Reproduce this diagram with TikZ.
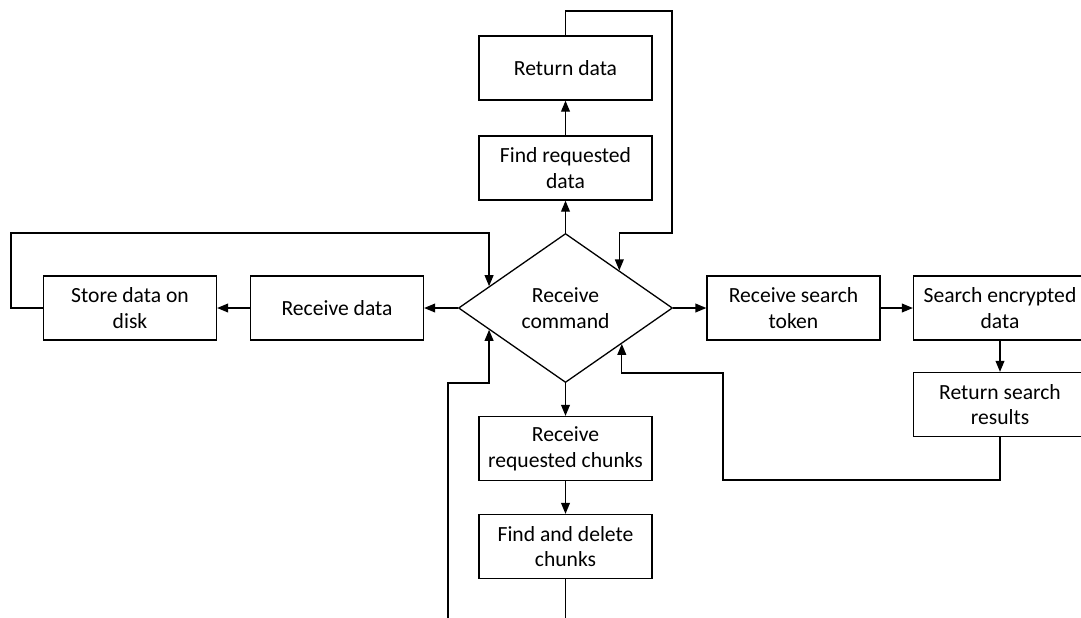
\documentclass[tikz,border=0pt]{standalone}
\usepackage{fontspec}
\setmainfont{Carlito}
\usetikzlibrary{shapes.geometric,arrows.meta,calc}
\begin{document}
\begin{tikzpicture}[x=0.5pt,y=-0.5pt,
  box/.style={draw=black,line width=0.65pt,minimum width=86.5pt,minimum height=32pt,inner sep=0pt,align=center,font=\fontsize{10.8}{12.8}\selectfont},
  dia/.style={draw=black,line width=0.65pt,shape=diamond,minimum width=107pt,minimum height=74.5pt,inner sep=0pt,align=center,font=\fontsize{10.8}{12.8}\selectfont},
  conn/.style={line width=0.65pt,-{Triangle[length=5.5pt,width=4.4pt]}},
  wire/.style={line width=0.65pt}]
\useasboundingbox (0,0) rectangle (1081,617);
\clip (0,0) rectangle (1081,617);
\node[dia] (cmd) at (565.5,308) {Receive\\command};
\node[box] (ret) at (565.5,68) {Return data};
\node[box] (find) at (565.5,168) {Find requested\\data};
\node[box] (recv) at (337,308) {Receive data};
\node[box] (store) at (130,308) {Store data on\\disk};
\node[box] (token) at (793.5,308) {Receive search\\token};
\node[box] (search) at (1000,308) {Search encrypted\\data};
\node[box] (results) at (1000,404.5) {Return search\\results};
\node[box] (chunks) at (565.5,448.5) {Receive\\requested chunks};
\node[box] (delete) at (565.5,546.5) {Find and delete\\chunks};
% edge points on the diamond
\coordinate (inNW) at ($(cmd.west)!0.29!(cmd.north)$);
\coordinate (inNE) at ($(cmd.north)!0.50!(cmd.east)$);
\coordinate (inSE) at ($(cmd.east)!0.477!(cmd.south)$);
\coordinate (inSW) at ($(cmd.west)!0.29!(cmd.south)$);
% straight connectors
\draw[conn] (cmd.north) -- (find.south);
\draw[conn] (find.north) -- (ret.south);
\draw[conn] (cmd.west) -- (recv.east);
\draw[conn] (recv.west) -- (store.east);
\draw[conn] (cmd.east) -- (token.west);
\draw[conn] (token.east) -- (search.west);
\draw[conn] (search.south) -- (results.north);
\draw[conn] (cmd.south) -- (chunks.north);
\draw[conn] (chunks.south) -- (delete.north);
% loops back to the command diamond
\draw[conn] (ret.north) -- (565.5,11) -- (672,11) -- (672,233) -- (inNE |- 0,233) -- (inNE);
\draw[conn] (store.west) -- (11,308) -- (11,233) -- (inNW |- 0,233) -- (inNW);
\draw[conn] (results.south) -- (1000,480) -- (723,480) -- (723,373) -- (inSE |- 0,373) -- (inSE);
\draw[conn] (delete.south) -- (565.5,640) -- (448,640) -- (448,383) -- (inSW |- 0,383) -- (inSW);
\end{tikzpicture}
\end{document}
